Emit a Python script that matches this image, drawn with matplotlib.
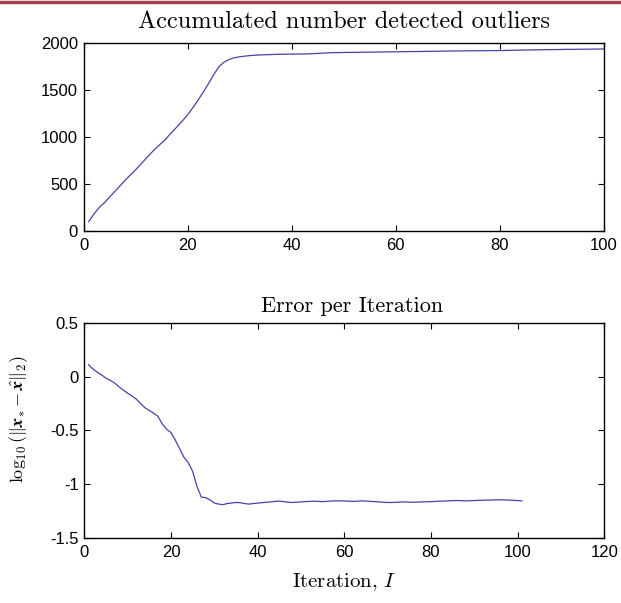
import matplotlib
matplotlib.use("Agg")
import matplotlib.pyplot as plt
from matplotlib.lines import Line2D

# ─── Datos ─────────────────────────────────────────────
iter_outliers = list(range(1, 101))
outliers_acum = [
    100, 180, 250, 300, 360, 420, 480, 540, 595, 650,
    710, 770, 830, 885, 935, 990, 1050, 1110, 1170, 1235,
    1310, 1390, 1475, 1565, 1660, 1745, 1795, 1825, 1843, 1853,
    1860, 1866, 1870, 1873, 1875, 1877, 1879, 1880, 1881, 1882,
    1883, 1883, 1884, 1886, 1889, 1892, 1895, 1897, 1898, 1899,
    1900, 1900, 1901, 1902, 1903, 1903, 1904, 1905, 1906, 1906,
    1907, 1908, 1909, 1909, 1910, 1911, 1912, 1912, 1913, 1914,
    1915, 1915, 1916, 1917, 1917, 1918, 1918, 1919, 1919, 1920,
    1921, 1922, 1923, 1924, 1925, 1926, 1927, 1928, 1929, 1930,
    1930, 1931, 1932, 1932, 1933, 1934, 1934, 1935, 1936, 1936,
]

iter_error = list(range(1, 102))
log_error = [
    0.11, 0.07, 0.04, 0.015, -0.015, -0.035, -0.06, -0.095, -0.125, -0.155,
    -0.18, -0.21, -0.25, -0.29, -0.315, -0.34, -0.37, -0.44, -0.49, -0.52,
    -0.59, -0.67, -0.75, -0.80, -0.88, -1.02, -1.12, -1.125, -1.145, -1.175,
    -1.185, -1.19, -1.18, -1.175, -1.17, -1.172, -1.18, -1.185, -1.18, -1.175,
    -1.172, -1.168, -1.165, -1.16, -1.157, -1.162, -1.168, -1.17, -1.168, -1.165,
    -1.162, -1.16, -1.158, -1.16, -1.162, -1.16, -1.156, -1.155, -1.155, -1.156,
    -1.158, -1.16, -1.158, -1.155, -1.157, -1.16, -1.162, -1.165, -1.168, -1.17,
    -1.17, -1.168, -1.166, -1.165, -1.167, -1.168, -1.166, -1.165, -1.163, -1.162,
    -1.16, -1.158, -1.157, -1.155, -1.153, -1.152, -1.153, -1.155, -1.154, -1.152,
    -1.15, -1.149, -1.148, -1.147, -1.146, -1.145, -1.146, -1.148, -1.15, -1.152,
    -1.155,
]

ticks_top_y = [0, 500, 1000, 1500, 2000]
ticks_top_x = [0, 20, 40, 60, 80, 100]
ticks_bot_y = [-1.5, -1, -0.5, 0, 0.5]
labels_bot_y = ["-1.5", "-1", "-0.5", "0", "0.5"]
ticks_bot_x = [0, 20, 40, 60, 80, 100, 120]

COLOR_LINEA = "#4444aa"

plt.rcParams["font.family"] = "Liberation Sans"
plt.rcParams["mathtext.fontset"] = "cm"
plt.rcParams["xtick.direction"] = "in"
plt.rcParams["ytick.direction"] = "in"
plt.rcParams["xtick.top"] = True
plt.rcParams["ytick.right"] = True
plt.rcParams["xtick.major.size"] = 4
plt.rcParams["ytick.major.size"] = 4
plt.rcParams["xtick.major.pad"] = 5
plt.rcParams["ytick.major.pad"] = 4

fig = plt.figure(figsize=(6.21, 6.03), dpi=100)

# Línea roja superior
fig.add_artist(Line2D([0, 1], [0.997, 0.997], transform=fig.transFigure,
                      color="#a0404c", linewidth=2.5))

# ─── Panel superior ────────────────────────────────────
ax1 = fig.add_axes([0.1345, 0.6169, 0.8374, 0.3118])
ax1.plot(iter_outliers, outliers_acum, color=COLOR_LINEA, linewidth=0.9)
ax1.set_xlim(0, 100)
ax1.set_ylim(0, 2000)
ax1.set_xticks(ticks_top_x)
ax1.set_yticks(ticks_top_y)
ax1.tick_params(labelsize=12)
ax1.set_title("Accumulated number detected outliers", family="cmr10",
              fontsize=17.5, pad=11)

# ─── Panel inferior ────────────────────────────────────
ax2 = fig.add_axes([0.1357, 0.1078, 0.8374, 0.357])
ax2.plot(iter_error, log_error, color=COLOR_LINEA, linewidth=0.9)
ax2.set_xlim(0, 120)
ax2.set_ylim(-1.5, 0.5)
ax2.set_xticks(ticks_bot_x)
ax2.set_yticks(ticks_bot_y)
ax2.set_yticklabels(labels_bot_y)
ax2.tick_params(labelsize=12)
ax2.set_title("Error per Iteration", family="cmr10", fontsize=16, pad=8,
              x=0.515)
ax2.set_xlabel(r"Iteration, $I$", family="cmr10", fontsize=15, labelpad=8)
ax2.set_ylabel(r"$\log_{10}(\|\boldsymbol{x}_{*}-\hat{\boldsymbol{x}}\|_2)$",
               fontsize=13)
ax2.yaxis.set_label_coords(-0.105, 0.55)

for ax in (ax1, ax2):
    for s in ax.spines.values():
        s.set_linewidth(1.0)

fig.savefig("out.png", dpi=100)
